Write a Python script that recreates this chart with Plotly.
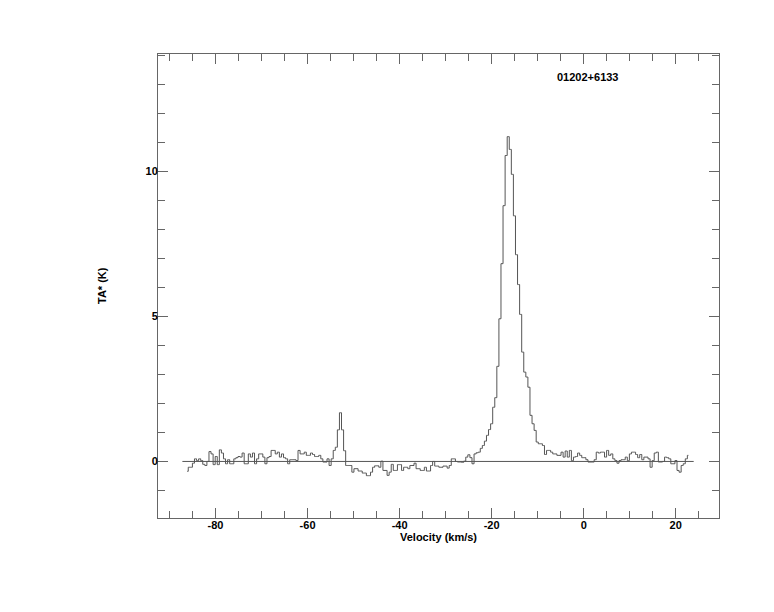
import plotly.graph_objects as go

# ---- data ----
V_START = -86.15   # km/s, centre of first channel
V_STEP = 0.45      # km/s channel width
ta = [
    -0.34, -0.2, -0.2, -0.06, 0.09, 0.03, 0.09, 0.03, -0.1, -0.14,
    0.0, 0.34, 0.26, -0.11, 0.17, -0.11, 0.40, 0.29, 0.09, -0.08,
    0.06, -0.08, -0.08, 0.09, 0.13, 0.17, 0.15, 0.29, -0.08, -0.08,
    0.26, 0.15, 0.29, -0.08, 0.09, 0.26, 0.26, 0.15, -0.08, 0.13,
    0.17, 0.38, 0.38, 0.26, 0.32, 0.15, 0.26, 0.13, 0.09, -0.08,
    0.06, 0.06, 0.06, 0.03, 0.38, 0.26, 0.26, 0.32, 0.21, 0.21,
    0.29, 0.24, 0.17, 0.17, 0.21, 0.09, -0.02, -0.02, 0.09, -0.14,
    0.09, 0.38, 0.49, 1.09, 1.68, 1.09, 0.37, -0.14, -0.14, -0.14,
    -0.37, -0.25, -0.25, -0.33, -0.33, -0.40, -0.40, -0.49, -0.49, -0.37,
    -0.2, -0.15, -0.15, -0.2, 0.01, -0.31, -0.31, -0.48, -0.37, -0.1,
    -0.31, -0.31, -0.11, -0.11, -0.31, -0.2, -0.2, -0.25, -0.14, -0.14,
    -0.06, -0.25, -0.25, -0.31, -0.31, -0.2, -0.33, -0.33, -0.14, 0.0,
    -0.16, -0.16, -0.2, -0.2, -0.16, -0.16, -0.23, -0.14, 0.09, 0.09,
    0.0, -0.02, -0.02, -0.03, 0.01, 0.15, 0.23, 0.13, -0.08, 0.26,
    0.30, 0.32, 0.45, 0.55, 0.7, 0.9, 1.1, 1.3, 1.87, 2.2,
    3.28, 4.92, 6.82, 8.82, 10.55, 11.2, 10.76, 9.9, 8.47, 7.13,
    6.1, 5.07, 3.77, 3.08, 2.91, 2.56, 1.59, 1.30, 1.07, 0.67,
    0.61, 0.61, 0.55, 0.24, 0.38, 0.38, 0.32, 0.26, 0.26, 0.21,
    0.21, 0.32, 0.15, 0.36, 0.15, 0.38, 0.03, 0.15, 0.17, 0.29,
    0.21, 0.13, 0.13, 0.06, -0.02, -0.02, -0.02, 0.06, 0.32, 0.29,
    0.32, 0.32, 0.15, 0.38, 0.21, 0.26, 0.09, 0.03, -0.06, 0.03,
    0.06, 0.06, 0.15, 0.03, 0.26, 0.32, 0.32, 0.24, 0.13, 0.24,
    0.06, 0.15, 0.15, 0.09, -0.2, 0.03, 0.29, 0.32, -0.02, -0.02,
    0.0, 0.15, 0.13, 0.09, -0.08, -0.08, 0.03, -0.31, -0.37, -0.14,
    -0.08, 0.09, 0.21,
]
velocity = [round(V_START + V_STEP * i, 3) for i in range(len(ta))]

source_name = "01202+6133"
x_title = "Velocity (km/s)"
y_title = "TA* (K)"
x_tick_vals = [-80, -60, -40, -20, 0, 20]
x_tick_text = ["-80", "-60", "-40", "-20", "0", "20"]
x_minor_vals = list(range(-90, 30, 5))
y_tick_vals = [0, 5, 10]
y_tick_text = ["0", "5", "10"]
y_minor_vals = list(range(-1, 15))
baseline_range = [-87.2, 23.9]
x_range = [-92.5, 29.4]
y_range = [-1.95, 14.05]

LINE = "#555555"
AXIS = "#666666"
FONT = dict(family="Liberation Sans, Arial, sans-serif", size=11, color="black", weight="bold")

fig = go.Figure()
fig.add_trace(go.Scatter(x=baseline_range, y=[0, 0], mode="lines",
                         line=dict(color=LINE, width=1), hoverinfo="skip"))
fig.add_trace(go.Scatter(x=velocity, y=ta, mode="lines", line_shape="hvh",
                         line=dict(color=LINE, width=1)))

axis_common = dict(showline=True, linecolor=AXIS, linewidth=1, mirror="ticks",
                   ticks="inside", tickcolor=AXIS, tickwidth=1, ticklen=10,
                   showgrid=False, zeroline=False, tickfont=FONT, tickmode="array",
                   ticklabelstandoff=-3)

fig.update_xaxes(range=x_range, tickvals=x_tick_vals, ticktext=x_tick_text,
                 minor=dict(tickmode="array", tickvals=x_minor_vals, ticks="inside",
                            ticklen=7, tickcolor=AXIS, showgrid=False),
                 **axis_common)
fig.update_yaxes(range=y_range, tickvals=y_tick_vals, ticktext=y_tick_text,
                 minor=dict(tickmode="array", tickvals=y_minor_vals, ticks="inside",
                            ticklen=7, tickcolor=AXIS, showgrid=False),
                 **axis_common)

fig.add_annotation(text=x_title, xref="paper", yref="paper", x=0.5, y=-0.041,
                   xanchor="center", yanchor="middle", showarrow=False, font=FONT)
fig.add_annotation(text=y_title, xref="paper", yref="paper", x=-0.1, y=0.502,
                   xanchor="center", yanchor="middle", textangle=-90,
                   showarrow=False, font=FONT)
fig.add_annotation(text=source_name, xref="paper", yref="paper", x=0.765, y=0.95,
                   xanchor="center", yanchor="middle", showarrow=False, font=FONT)

fig.update_layout(width=774, height=612, showlegend=False,
                  margin=dict(l=150, r=63, t=46, b=102),
                  paper_bgcolor="white", plot_bgcolor="white", font=FONT)

fig.write_html("out.html")
